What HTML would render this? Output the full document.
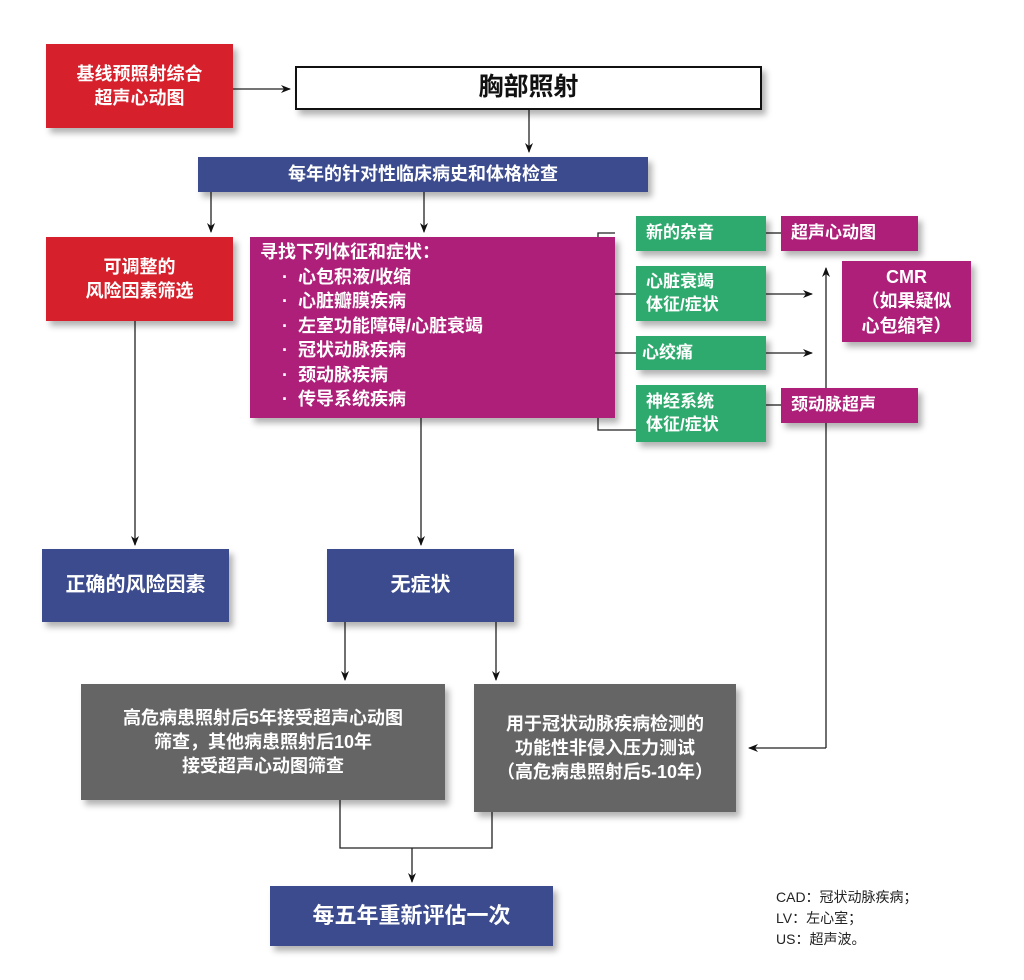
<!DOCTYPE html>
<html><head><meta charset="utf-8"><style>
body{margin:0;width:1024px;height:980px;background:#fff;position:relative;overflow:hidden;font-family:"Liberation Sans","Noto Sans CJK SC",sans-serif;}
.b{position:absolute;color:#fff;font-weight:bold;box-sizing:border-box;display:flex;align-items:center;justify-content:center;text-align:center;box-shadow:4px 5px 6px rgba(0,0,0,0.3);line-height:1.35;}
.red{background:#d6202b}.blue{background:#3b4b8e}.mag{background:#ad1f78}.grn{background:#2faa6e}.gry{background:#656565}
.l{justify-content:flex-start;text-align:left;padding-left:10px}
svg{position:absolute;left:0;top:0}
</style></head><body>
<svg width="1024" height="980">
<defs><marker id="a" markerWidth="10" markerHeight="10" refX="9" refY="5" orient="auto" markerUnits="userSpaceOnUse"><path d="M0,1 L10,5 L0,9 L3,5z" fill="#111"/></marker></defs>
<g stroke="#222" stroke-width="1.3" fill="none">
<line x1="233" y1="89" x2="290" y2="89" marker-end="url(#a)"/>
<line x1="529" y1="110" x2="529" y2="152" marker-end="url(#a)"/>
<line x1="211" y1="192" x2="211" y2="232" marker-end="url(#a)"/>
<line x1="424" y1="192" x2="424" y2="232" marker-end="url(#a)"/>
<line x1="135" y1="321" x2="135" y2="545" marker-end="url(#a)"/>
<line x1="421" y1="418" x2="421" y2="545" marker-end="url(#a)"/>
<line x1="345" y1="622" x2="345" y2="680" marker-end="url(#a)"/>
<line x1="496" y1="622" x2="496" y2="680" marker-end="url(#a)"/>
<polyline points="340,800 340,848 492,848 492,812"/>
<line x1="412" y1="848" x2="412" y2="882" marker-end="url(#a)"/>
<polyline points="615,233 598,233 598,430 636,430"/>
<line x1="615" y1="294" x2="636" y2="294"/>
<line x1="615" y1="353" x2="636" y2="353"/>
<line x1="766" y1="294" x2="812" y2="294" marker-end="url(#a)"/>
<line x1="766" y1="353" x2="812" y2="353" marker-end="url(#a)"/>
<line x1="766" y1="233" x2="781" y2="233"/>
<line x1="766" y1="405" x2="781" y2="405"/>
<line x1="826" y1="748" x2="826" y2="268" marker-end="url(#a)"/>
<line x1="826" y1="748" x2="749" y2="748" marker-end="url(#a)"/>
</g></svg>
<div class="b red" style="left:46px;top:44px;width:187px;height:84px;font-size:18px">基线预照射综合<br>超声心动图</div>
<div class="b" style="left:295px;top:66px;width:467px;height:44px;border:2px solid #111;color:#111;font-size:25px;background:#fff">胸部照射</div>
<div class="b blue" style="left:198px;top:157px;width:450px;height:35px;font-size:18px">每年的针对性临床病史和体格检查</div>
<div class="b red" style="left:46px;top:237px;width:187px;height:84px;font-size:18px">可调整的<br>风险因素筛选</div>
<div class="b mag" style="left:250px;top:237px;width:365px;height:181px;font-size:18px;display:block;text-align:left;padding:3px 0 0 10px;line-height:24.5px">寻找下列体征和症状：<br>
<div style="padding-left:22px">·&nbsp;&nbsp;心包积液/收缩<br>·&nbsp;&nbsp;心脏瓣膜疾病<br>·&nbsp;&nbsp;左室功能障碍/心脏衰竭<br>·&nbsp;&nbsp;冠状动脉疾病<br>·&nbsp;&nbsp;颈动脉疾病<br>·&nbsp;&nbsp;传导系统疾病</div></div>
<div class="b grn l" style="left:636px;top:216px;width:130px;height:35px;font-size:17px">新的杂音</div>
<div class="b grn l" style="left:636px;top:266px;width:130px;height:55px;font-size:17px">心脏衰竭<br>体征/症状</div>
<div class="b grn l" style="left:636px;top:336px;width:130px;height:34px;font-size:17px;padding-left:6px">心绞痛</div>
<div class="b grn l" style="left:636px;top:385px;width:130px;height:57px;font-size:17px">神经系统<br>体征/症状</div>
<div class="b mag l" style="left:781px;top:216px;width:137px;height:35px;font-size:17px">超声心动图</div>
<div class="b mag" style="left:842px;top:261px;width:129px;height:81px;font-size:18px">CMR<br>（如果疑似<br>心包缩窄）</div>
<div class="b mag l" style="left:781px;top:388px;width:137px;height:35px;font-size:17px">颈动脉超声</div>
<div class="b blue" style="left:42px;top:549px;width:187px;height:73px;font-size:20px">正确的风险因素</div>
<div class="b blue" style="left:327px;top:549px;width:187px;height:73px;font-size:20px">无症状</div>
<div class="b gry" style="left:81px;top:684px;width:364px;height:116px;font-size:18px">高危病患照射后5年接受超声心动图<br>筛查，其他病患照射后10年<br>接受超声心动图筛查</div>
<div class="b gry" style="left:474px;top:684px;width:262px;height:128px;font-size:18px">用于冠状动脉疾病检测的<br>功能性非侵入压力测试<br>（高危病患照射后5-10年）</div>
<div class="b blue" style="left:270px;top:886px;width:283px;height:60px;font-size:22px">每五年重新评估一次</div>
<div style="position:absolute;left:776px;top:887px;font-size:14px;line-height:21px;color:#222">CAD：冠状动脉疾病；<br>LV：左心室；<br>US：超声波。</div>
</body></html>
